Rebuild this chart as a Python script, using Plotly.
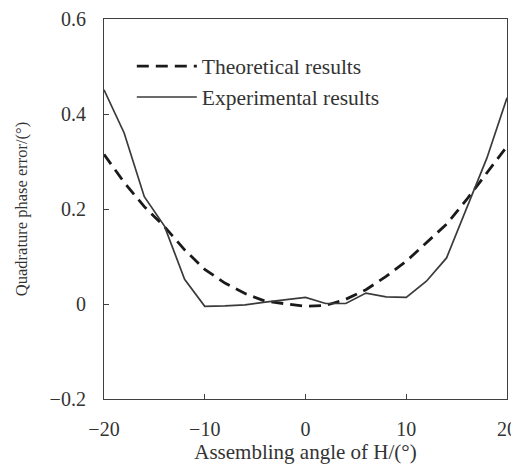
import plotly.graph_objects as go

angles = [-20, -18, -16, -14, -12, -10, -8, -6, -4, -2, 0, 2, 4, 6, 8, 10, 12, 14, 16, 18, 20]
theoretical = [0.315, 0.256, 0.205, 0.163, 0.114, 0.073, 0.044, 0.022, 0.006, 0.0, -0.005,
               -0.003, 0.010, 0.030, 0.058, 0.090, 0.128, 0.168, 0.220, 0.276, 0.332]
experimental = [0.451, 0.360, 0.226, 0.164, 0.052, -0.005, -0.004, -0.002, 0.004, 0.009, 0.014,
                0.001, 0.001, 0.023, 0.015, 0.014, 0.048, 0.097, 0.200, 0.307, 0.434]
x_ticks = [-20, -10, 0, 10, 20]
x_tick_labels = ["\u221220", "\u221210", "0", "10", "20"]
y_ticks = [-0.2, 0, 0.2, 0.4, 0.6]
y_tick_labels = ["\u22120.2", "0", "0.2", "0.4", "0.6"]

font_family = "Liberation Serif, Times New Roman, serif"
text_color = "#333333"

fig = go.Figure()
fig.add_trace(go.Scatter(
    x=angles, y=theoretical, mode="lines", name="Theoretical results",
    line=dict(color="#1a1a1a", width=2.8, dash="12px,7px"),
))
fig.add_trace(go.Scatter(
    x=angles, y=experimental, mode="lines", name="Experimental results",
    line=dict(color="#3a3a3a", width=1.7),
))

axis_common = dict(
    showline=True, linecolor="#404040", linewidth=1.2, mirror=True,
    ticks="inside", ticklen=5, tickwidth=1.2, tickcolor="#404040",
    showgrid=False, zeroline=False, automargin=False,
    tickfont=dict(family=font_family, size=20, color=text_color),
)

# The page body adds an 8px margin, so the figure is 8px smaller on each axis.
fig.update_layout(
    width=511, height=465,
    margin=dict(l=96, r=12, t=11, b=74),
    paper_bgcolor="white", plot_bgcolor="white",
    font=dict(family=font_family, size=20, color=text_color),
    showlegend=True,
    legend=dict(
        x=0.069, y=0.93, xanchor="left", yanchor="top",
        bgcolor="rgba(0,0,0,0)", borderwidth=0,
        itemwidth=60, tracegroupgap=0,
        font=dict(family=font_family, size=21.5, color=text_color),
    ),
    xaxis=dict(
        range=[-20, 20], tickvals=x_ticks, ticktext=x_tick_labels,
        ticklabelstandoff=12,
        title=dict(text="Assembling angle of H/(\u00b0)", standoff=2,
                   font=dict(family=font_family, size=21, color=text_color)),
        **axis_common,
    ),
    yaxis=dict(
        range=[-0.2, 0.6], tickvals=y_ticks, ticktext=y_tick_labels,
        ticklabelstandoff=13,
        title=dict(text="Quadrature phase error/(\u00b0)", standoff=17,
                   font=dict(family=font_family, size=16.5, color=text_color)),
        **axis_common,
    ),
)

fig.write_html("out.html")
